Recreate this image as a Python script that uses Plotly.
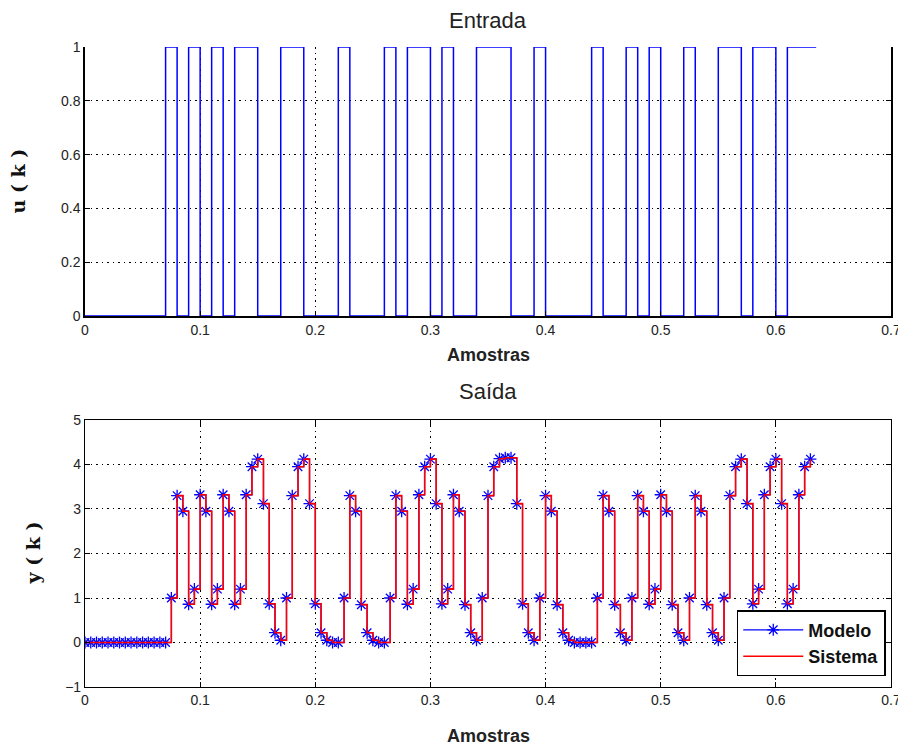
import plotly.graph_objects as go

# sample times (period 0.005)
ts = 0.005
n_u = 128
n_y = 127
t_u = [round(i * ts, 3) for i in range(n_u)]
t_y = [round(i * ts, 3) for i in range(n_y)]

# input u(k): intervals where u=1 (start, end)
u_on = [(0.07, 0.08), (0.09, 0.10), (0.11, 0.12), (0.13, 0.15), (0.17, 0.19),
        (0.22, 0.23), (0.26, 0.27), (0.28, 0.30), (0.31, 0.32), (0.34, 0.37),
        (0.39, 0.40), (0.44, 0.45), (0.47, 0.48), (0.49, 0.50), (0.52, 0.53),
        (0.55, 0.57), (0.58, 0.60), (0.61, 0.64)]
u_vals = [1 if any(a - 1e-9 <= t < b - 1e-9 for a, b in u_on) else 0 for t in t_u]

# output y(k) (Sistema)
y_sistema = [
    0, 0, 0, 0, 0, 0, 0, 0, 0, 0, 0, 0, 0, 0, 0,          # 0 .. 0.07
    1.0, 3.3, 2.95, 0.86, 1.2,                              # 0.075 .. 0.095
    3.32, 2.95, 0.86, 1.2, 3.32, 2.95, 0.86, 1.2,           # 0.10 .. 0.135
    3.32, 3.95, 4.12, 3.12, 0.87, 0.22, 0.05,               # 0.14 .. 0.17
    1.0, 3.3, 3.95, 4.12, 3.12, 0.87, 0.22, 0.05, 0, 0,     # 0.175 .. 0.22
    1.0, 3.3, 2.95, 0.85, 0.22, 0.05, 0, 0,                 # 0.225 .. 0.26
    1.0, 3.3, 2.95, 0.86, 1.2, 3.32, 3.95, 4.12, 3.12,      # 0.265 .. 0.305
    0.87, 1.2, 3.32, 2.95, 0.85, 0.22, 0.05,                # 0.31 .. 0.34
    1.0, 3.3, 3.95, 4.13, 4.15, 4.15, 3.12, 0.87, 0.22, 0.05,  # 0.345 .. 0.39
    1.0, 3.3, 2.95, 0.85, 0.22, 0.05, 0, 0, 0, 0,           # 0.395 .. 0.44
    1.0, 3.3, 2.95, 0.85, 0.22, 0.05,                       # 0.445 .. 0.47
    1.0, 3.3, 2.95, 0.86, 1.2, 3.32, 2.95, 0.85, 0.22, 0.05,  # 0.475 .. 0.52
    1.0, 3.3, 2.95, 0.85, 0.22, 0.05,                       # 0.525 .. 0.55
    1.0, 3.3, 3.95, 4.12, 3.12, 0.87, 1.2, 3.32, 3.95, 4.12,  # 0.555 .. 0.60
    3.12, 0.87, 1.2, 3.32, 3.95, 4.12,                      # 0.605 .. 0.63
]
# model output (Modelo): overlaps the system curve
y_modelo = list(y_sistema)

x_ticks = [0, 0.1, 0.2, 0.3, 0.4, 0.5, 0.6, 0.7]
x_tick_text = ["0", "0.1", "0.2", "0.3", "0.4", "0.5", "0.6", "0.7"]
u_ticks = [0, 0.2, 0.4, 0.6, 0.8, 1]
u_tick_text = ["0", "0.2", "0.4", "0.6", "0.8", "1"]
y_ticks = [-1, 0, 1, 2, 3, 4, 5]

fig = go.Figure()

fig.add_trace(go.Scatter(x=t_u, y=u_vals, mode="lines", line=dict(color="#0000ff", width=1.5, shape="hv"),
                         showlegend=False, xaxis="x", yaxis="y"))

fig.add_trace(go.Scatter(x=t_y, y=y_modelo, mode="lines+markers", name="Modelo",
                         line=dict(color="#0000ff", width=1.2, shape="hv"),
                         marker=dict(symbol="asterisk-open", size=10, color="#0000ff",
                                     line=dict(color="#0000ff", width=1.3)),
                         xaxis="x2", yaxis="y2"))
fig.add_trace(go.Scatter(x=t_y, y=y_sistema, mode="lines", name="Sistema",
                         line=dict(color="#ff0000", width=1.6, shape="hv"),
                         xaxis="x2", yaxis="y2"))

font_tick = dict(family="Liberation Sans, Arial, sans-serif", size=14, color="#222")
grid = dict(showgrid=True, gridcolor="#000", griddash="1.5px,4px", gridwidth=1.2)

TOP = [0.5797, 1.0]
BOT = [0.0, 0.4172]

# the page adds an 8px body margin, so the figure is 8px smaller than the window
fig.update_layout(
    width=898, height=739,
    paper_bgcolor="white", plot_bgcolor="white",
    margin=dict(l=77, r=15, t=39, b=60),
    font=dict(family="Liberation Sans, Arial, sans-serif", color="#000"),
    xaxis=dict(domain=[0, 1], anchor="y", range=[0, 0.7], tickvals=x_ticks, ticktext=x_tick_text,
               ticks="inside", ticklen=5, tickcolor="#000", showline=True, linecolor="#000", linewidth=2,
               mirror=False, zeroline=False, tickfont=font_tick, automargin=False, **grid),
    yaxis=dict(domain=TOP, anchor="x", range=[0, 1], tickvals=u_ticks, ticktext=u_tick_text,
               ticks="inside", ticklen=5, tickcolor="#000", showline=True, linecolor="#000", linewidth=1.5,
               mirror="ticks", zeroline=False, tickfont=font_tick, automargin=False, **grid),
    xaxis2=dict(domain=[0, 1], anchor="y2", range=[0, 0.7], tickvals=x_ticks, ticktext=x_tick_text,
                ticks="inside", ticklen=5, tickcolor="#000", showline=True, linecolor="#000", linewidth=1.2,
                mirror="ticks", zeroline=False, tickfont=font_tick, automargin=False, **grid),
    yaxis2=dict(domain=BOT, anchor="x2", range=[-1, 5], tickvals=y_ticks,
                ticks="inside", ticklen=5, tickcolor="#000", showline=True, linecolor="#000", linewidth=1.2,
                mirror="ticks", zeroline=False, tickfont=font_tick, automargin=False, **grid),
    legend=dict(x=0.9935, y=0.017, xanchor="right", yanchor="bottom", bgcolor="white",
                bordercolor="#000", borderwidth=1.5,
                font=dict(size=18, family="Liberation Sans, Arial", color="#111", weight="bold"),
                tracegroupgap=0, itemwidth=60),
    annotations=[
        dict(text="Entrada", x=0.5, y=TOP[1], xref="paper", yref="paper", yanchor="bottom", yshift=12,
             showarrow=False, font=dict(size=22, family="Liberation Sans, Arial", color="#222")),
        dict(text="Saída", x=0.5, y=BOT[1], xref="paper", yref="paper", yanchor="bottom", yshift=14,
             showarrow=False, font=dict(size=22, family="Liberation Sans, Arial", color="#222")),
        dict(text="<b>Amostras</b>", x=0.5, y=TOP[0], xref="paper", yref="paper", yanchor="middle", yshift=-39,
             showarrow=False, font=dict(size=18, family="Liberation Sans, Arial", color="#222")),
        dict(text="<b>Amostras</b>", x=0.5, y=BOT[0], xref="paper", yref="paper", yanchor="middle", yshift=-49,
             showarrow=False, font=dict(size=18, family="Liberation Sans, Arial", color="#222")),
        dict(text="<b>u ( k )</b>", x=0, y=0.5 * (TOP[0] + TOP[1]), xref="paper", yref="paper",
             xanchor="center", yanchor="middle", xshift=-67, textangle=-90,
             showarrow=False, font=dict(size=19, family="DejaVu Serif, Liberation Serif, serif", color="#111")),
        dict(text="<b>y ( k )</b>", x=0, y=0.5 * (BOT[0] + BOT[1]), xref="paper", yref="paper",
             xanchor="center", yanchor="middle", xshift=-52, textangle=-90,
             showarrow=False, font=dict(size=19, family="DejaVu Serif, Liberation Serif, serif", color="#111")),
    ],
)

fig.write_html("out.html")
